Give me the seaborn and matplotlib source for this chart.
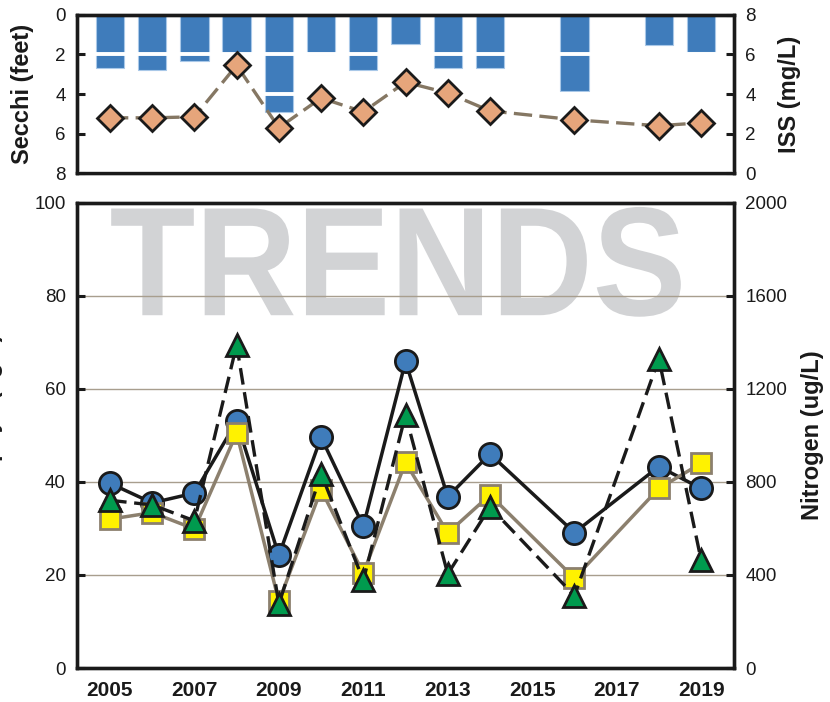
import matplotlib
matplotlib.use("Agg")
import pandas as pd
import matplotlib.pyplot as plt
import seaborn as sns
from matplotlib.textpath import TextPath
from matplotlib.patches import PathPatch
from matplotlib.font_manager import FontProperties
from matplotlib.transforms import Affine2D

# Dados
years = [2005, 2006, 2007, 2008, 2009, 2010, 2011, 2012, 2013, 2014, 2016, 2018, 2019]
secchi = [2.7, 2.8, 2.35, 2.0, 4.9, 2.0, 2.8, 1.5, 2.7, 2.7, 3.85, 1.55, 1.9]
iss = [2.8, 2.8, 2.85, 5.45, 2.3, 3.8, 3.1, 4.6, 4.05, 3.15, 2.7, 2.4, 2.55]
chl = [39.7, 35.5, 37.6, 53.0, 24.2, 49.6, 30.5, 65.9, 36.8, 46.0, 29.1, 43.3, 38.6]
phos = [32.0, 33.4, 29.9, 50.5, 14.3, 38.3, 20.4, 44.2, 29.0, 37.2, 19.3, 38.6, 44.0]
nitro = [721, 701, 633, 1389, 275, 836, 377, 1088, 404, 692, 311, 1329, 464]
xticks = [2005, 2007, 2009, 2011, 2013, 2015, 2017, 2019]

df = pd.DataFrame({"year": years, "secchi": secchi, "iss": iss,
                   "chl": chl, "phos": phos, "nitro": nitro})

sns.set_style("white")
plt.rcParams["font.family"] = ["Liberation Sans", "DejaVu Sans"]

ink = "#1a1a1a"
blue = "#3f7cbb"
tan = "#8c806e"

fig = plt.figure(figsize=(8.3, 7.02), dpi=100)
ax_top = fig.add_axes([0.0928, 0.7531, 0.7916, 0.2259])
ax = fig.add_axes([0.0928, 0.0484, 0.7916, 0.6628])
xlim = (2004.22, 2019.78)

# Painel de cima: Secchi (barras) e ISS (losangos)
sns.barplot(data=df, x="year", y="secchi", native_scale=True, width=0.67,
            color=blue, saturation=1, edgecolor="#a9c8e8", linewidth=0.8,
            ax=ax_top)
ax_top.set_ylim(8, 0)
ax_top.set_yticks([0, 2, 4, 6, 8])
ax_top.set_axisbelow(False)
ax_top.yaxis.grid(True, color="white", lw=2.8)
ax_top.xaxis.grid(False)

ax_iss = ax_top.twinx()
sns.lineplot(data=df, x="year", y="iss", ax=ax_iss, color="#857763", lw=2.4,
             linestyle=(0, (5.5, 2.2)), marker="D", markersize=13,
             markerfacecolor="#e6a57b", markeredgecolor=ink, markeredgewidth=2)
ax_iss.set_ylim(0, 8)
ax_iss.set_yticks([0, 2, 4, 6, 8])

for a in (ax_top, ax_iss):
    a.set_xlim(*xlim)
    a.set_xticks([])
    a.set_xlabel("")
    a.set_ylabel("")

# Painel de baixo: clorofila, fosforo e nitrogenio
fp = FontProperties(family="Liberation Sans", weight="bold")
tp = TextPath((0, 0), "TRENDS", size=100, prop=fp)
bb = tp.get_extents()
box = (0.052, 0.755, 0.919, 0.991)
tr = (Affine2D().translate(-bb.x0, -bb.y0)
      .scale((box[2] - box[0]) / bb.width, (box[3] - box[1]) / bb.height)
      .translate(box[0], box[1]))
ax.add_patch(PathPatch(tr.transform_path(tp), transform=ax.transAxes,
                       facecolor="#d2d3d5", edgecolor="none", zorder=0.3))

ax.set_axisbelow(True)
ax.yaxis.grid(True, color="#a89e8e", lw=1)
ax.xaxis.grid(False)

sns.lineplot(data=df, x="year", y="chl", ax=ax, color=ink, lw=2.5,
             marker="o", markersize=16, markerfacecolor=blue,
             markeredgecolor=ink, markeredgewidth=2)
sns.lineplot(data=df, x="year", y="phos", ax=ax, color=tan, lw=2.5,
             marker="s", markersize=14, markerfacecolor="#fff200",
             markeredgecolor=tan, markeredgewidth=2)
ax.set_ylim(0, 100)
ax.set_yticks([0, 20, 40, 60, 80, 100])

ax_n = ax.twinx()
sns.lineplot(data=df, x="year", y="nitro", ax=ax_n, color=ink, lw=2.4,
             linestyle=(0, (5, 2.3)), marker="^", markersize=16,
             markerfacecolor="#009a4e", markeredgecolor=ink, markeredgewidth=2)
ax_n.set_ylim(0, 2000)
ax_n.set_yticks([0, 400, 800, 1200, 1600, 2000])

for a in (ax, ax_n):
    a.set_xlim(*xlim)
    a.set_xticks(xticks)
    a.set_xlabel("")
    a.set_ylabel("")
ax.set_xticklabels([str(y) for y in xticks], fontsize=15, fontweight="bold")

for a in (ax_top, ax_iss, ax, ax_n):
    for s in a.spines.values():
        s.set_visible(True)
        s.set_color(ink)
        s.set_linewidth(2.4)
    a.tick_params(direction="in", length=6, width=2.2, colors=ink,
                  labelsize=13.5, pad=8)
ax.tick_params(axis="x", pad=9, labelsize=15)
ax_n.tick_params(axis="x", length=0)

# Rotulos dos eixos
lab = dict(fontsize=17, fontweight="bold", rotation=90, ha="center",
           va="center", color=ink)
fig.text(23 / 830, (702 - 94) / 702, "Secchi (feet)", **lab)
fig.text(789 / 830, (702 - 94) / 702, "ISS (mg/L)", **lab)
fig.text(-8 / 830, (702 - 435) / 702, "Chlorophyll (ug/L)", **lab)
fig.text(812 / 830, (702 - 435) / 702, "Nitrogen (ug/L)", **lab)

plt.savefig("out.png", dpi=100)
